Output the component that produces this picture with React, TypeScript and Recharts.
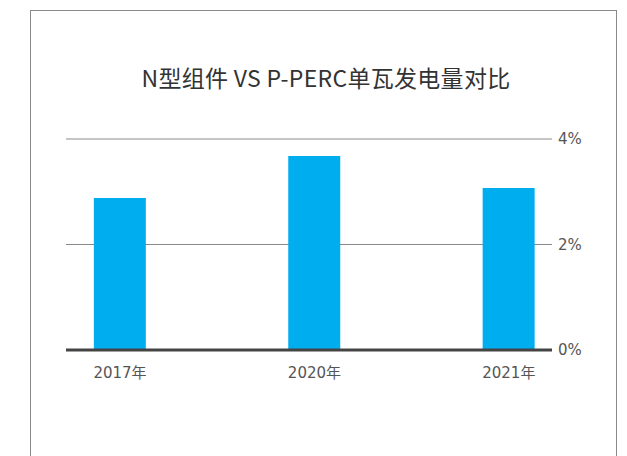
import React from 'react';
import { BarChart, Bar, XAxis, YAxis, CartesianGrid } from 'recharts';

// 单瓦发电量提升（%）
const years = ['2017年', '2020年', '2021年'];
const gains = [2.88, 3.68, 3.07];
const yTicks = [0, 2, 4];

const data = years.map((year, i) => ({ idx: i, year, gain: gains[i] }));

const FONT = '"Noto Sans CJK SC", "Noto Sans", sans-serif';
const TICK_FONT = '"DejaVu Sans", "Noto Sans CJK SC", sans-serif';

const App: React.FC = () => {
  return (
    <div style={{ position: 'fixed', left: 0, top: 0, width: 627, height: 456, overflow: 'hidden', background: '#fff', fontFamily: FONT }}>
      {/* 外框 */}
      <div style={{ position: 'absolute', left: 30, top: 10, width: 587, height: 480, border: '1px solid #8a8a8a', boxSizing: 'border-box' }} />
      <div style={{ position: 'absolute', left: 0, top: 62, width: 652, textAlign: 'center', fontSize: 23, letterSpacing: 0.3, color: '#333', lineHeight: '30px' }}>
        N型组件 VS P-PERC单瓦发电量对比
      </div>
      <div style={{ position: 'absolute', left: 0, top: 0 }}>
        <BarChart width={627} height={456} data={data} margin={{ top: 139, right: 15, left: 66, bottom: 76 }}>
          <CartesianGrid vertical={false} stroke="#8a8a8a" strokeWidth={1} />
          <XAxis
            dataKey="idx"
            type="number"
            domain={[-0.278, 2.222]}
            ticks={[0, 1, 2]}
            tickFormatter={(v: number) => years[v]}
            height={30}
            axisLine={{ stroke: '#444', strokeWidth: 3 }}
            tickLine={false}
            tickMargin={11}
            tick={{ fontSize: 15, fill: '#555', fontFamily: TICK_FONT }}
          />
          <YAxis
            orientation="right"
            domain={[0, 4]}
            ticks={yTicks}
            tickFormatter={(v: number) => `${v}%`}
            width={60}
            axisLine={false}
            tickLine={false}
            tickMargin={0}
            tick={{ fontSize: 15, fill: '#555', fontFamily: TICK_FONT }}
          />
          <Bar dataKey="gain" fill="#00aeef" barSize={52} isAnimationActive={false} />
        </BarChart>
      </div>
    </div>
  );
};

export default App;
